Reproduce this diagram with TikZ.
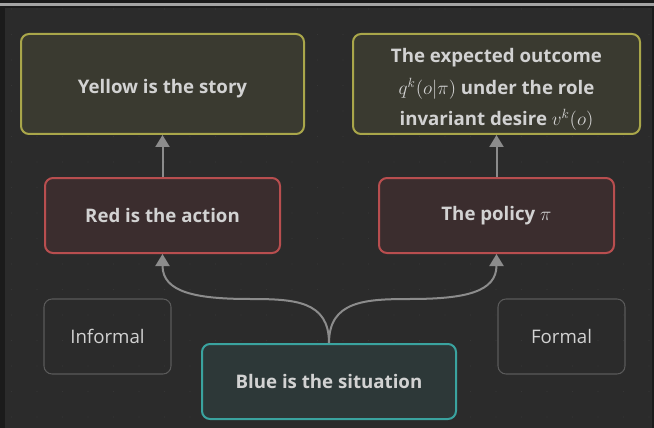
\documentclass[tikz,border=0pt]{standalone}
\usepackage{fontspec}
\setmainfont{Open Sans}
\usetikzlibrary{arrows.meta}

\definecolor{bgcol}{HTML}{2B2B2B}
\definecolor{edgecol}{HTML}{1B1B1B}
\definecolor{dotcol}{HTML}{363636}
\definecolor{txtcol}{HTML}{D2D2D2}
\definecolor{yelfill}{HTML}{3A3A30}
\definecolor{yeldraw}{HTML}{A9A64A}
\definecolor{redfill}{HTML}{3B2D2E}
\definecolor{reddraw}{HTML}{B84E4F}
\definecolor{bluefill}{HTML}{2D3838}
\definecolor{bluedraw}{HTML}{3AA39F}
\definecolor{greydraw}{HTML}{5A5A5A}
\definecolor{linkcol}{HTML}{8C8C8C}

\tikzset{
  box/.style={rounded corners=6pt, line width=1.5pt, text=txtcol, align=center,
    minimum height=56.25pt, inner sep=0pt, font=\fontsize{14}{23.6}\selectfont\bfseries},
  story/.style={box, draw=yeldraw, fill=yelfill, minimum width=212.25pt, minimum height=75pt},
  action/.style={box, draw=reddraw, fill=redfill, minimum width=176.25pt},
  situation/.style={box, draw=bluedraw, fill=bluefill, minimum width=190.5pt},
  side/.style={box, draw=greydraw, line width=0.8pt, minimum width=95.25pt,
    font=\fontsize{14}{17}\selectfont},
  link/.style={draw=linkcol, line width=1.5pt, -{Triangle[width=10.5pt,length=9pt]}},
}

\begin{document}
\begin{tikzpicture}[x=0.75pt,y=0.75pt,yscale=-1,xscale=1]
%Background
\fill[bgcol] (0,0) rectangle (654,428);
\fill[edgecol] (0,0) rectangle (654,3);
\fill[edgecol] (0,0) rectangle (5,428);
\fill[edgecol] (652,0) rectangle (654,428);
\fill[black!20!white!75!bgcol] (0,3.5) rectangle (654,6);
\fill[edgecol] (5,6) rectangle (654,8);
%Dot grid
\foreach \i in {0,...,25} {
  \foreach \j in {0,...,16} {
    \fill[dotcol] (11.5+25.5*\i, 9+25.5*\j) circle (0.6);
  }
}

% Yellow row
\node[story] (story) at (162.5,84) {\raisebox{-3.5pt}[\height][\depth]{Yellow is the story}};
\node[story, minimum width=215.25pt] (outcome) at (496.5,84)
  {\raisebox{-3pt}[\height][\depth]{\begin{tabular}{@{}c@{}}The expected outcome\\$q^k(o|\pi)$ under the role\\invariant desire $v^k(o)$\end{tabular}}};
% Red row
\node[action] (action) at (162.5,215.5) {Red is the action};
\node[action] (policy) at (496.5,215.5) {The policy $\pi$};
% Bottom row
\node[side] (informal) at (107.5,336.5) {Informal};
\node[side] (formal) at (561.5,336.5) {Formal};
\node[situation] (situation) at (329,381.5) {Blue is the situation};

%Links
\coordinate (forkl) at (250,299);
\coordinate (forkr) at (410,299);
\draw[link] (action.north) -- (story.south);
\draw[link] (policy.north) -- (outcome.south);
\draw[link] (situation.north) .. controls +(0,-42) and +(45,0) .. (forkl)
  .. controls +(-55,0) and +(0,38) .. (action.south);
\draw[link] (situation.north) .. controls +(0,-42) and +(-45,0) .. (forkr)
  .. controls +(55,0) and +(0,38) .. (policy.south);
\end{tikzpicture}
\end{document}
